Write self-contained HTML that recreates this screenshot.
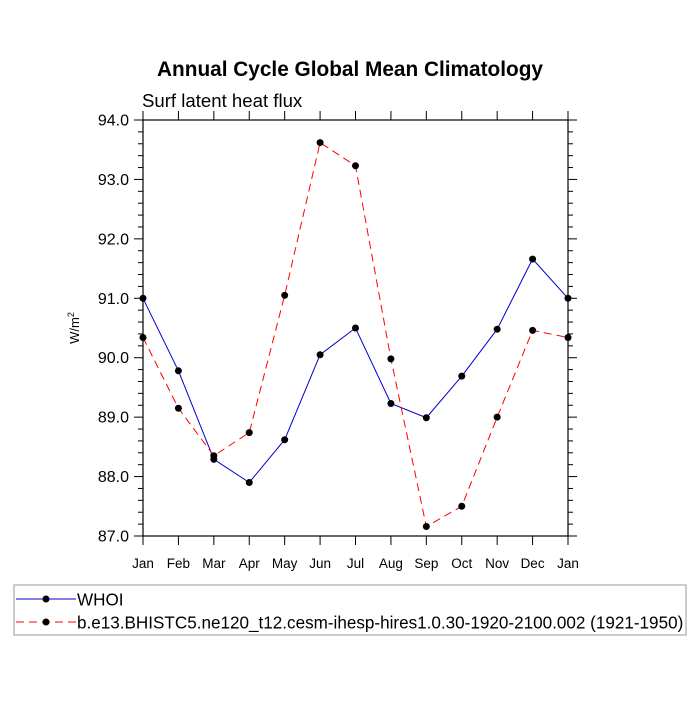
<!DOCTYPE html>
<html><head><meta charset="utf-8"><style>
body{margin:0;background:#fff}
svg{font-family:"Liberation Sans",Arial,sans-serif}
</style></head><body>
<svg width="700" height="700" xmlns="http://www.w3.org/2000/svg">
<rect width="700" height="700" fill="#fff"/>
<text x="350" y="76" text-anchor="middle" font-size="20.8" font-weight="bold">Annual Cycle Global Mean Climatology</text>
<text x="142" y="107" font-size="18.6">Surf latent heat flux</text>
<text transform="translate(79,328) rotate(-90)" text-anchor="middle" font-size="13">W/m<tspan dy="-5" font-size="9">2</tspan></text>
<g id="axes"></g>
<g id="series"></g>
<rect x="14" y="585" width="672" height="50" fill="none" stroke="#999" stroke-width="1"/>
<g>
<line x1="16" y1="599" x2="76" y2="599" stroke="#00c" stroke-width="1"/>
<circle cx="46" cy="599" r="3.5" fill="#000"/>
<text x="77" y="605.5" font-size="17.1">WHOI</text></g>
<g>
<line x1="16" y1="622" x2="76" y2="622" stroke="#f00" stroke-width="1" stroke-dasharray="8,5"/>
<circle cx="46" cy="622" r="3.5" fill="#000"/>
<text x="77" y="628.5" font-size="17.1">b.e13.BHISTC5.ne120_t12.cesm-ihesp-hires1.0.30-1920-2100.002 (1921-1950)</text></g>
</svg>
<script>
const months=["Jan","Feb","Mar","Apr","May","Jun","Jul","Aug","Sep","Oct","Nov","Dec","Jan"];
const whoi=[91.0,89.78,88.29,87.9,88.62,90.05,90.5,89.23,88.99,89.69,90.48,91.66,91.0];
const model=[90.34,89.15,88.35,88.74,91.05,93.62,93.23,89.98,87.16,87.5,89.0,90.46,90.34];
const yTicks=["87.0","88.0","89.0","90.0","91.0","92.0","93.0","94.0"];
const X0=143,X1=568,Y0=536,Y1=120,YMIN=87,YMAX=94;
const NS="http://www.w3.org/2000/svg";
function sx(i){return X0+(X1-X0)*i/(months.length-1);}
function sy(v){return Y0-(Y0-Y1)*(v-YMIN)/(YMAX-YMIN);}
function mk(t,a,p){const e=document.createElementNS(NS,t);for(const k in a)e.setAttribute(k,a[k]);p.appendChild(e);return e;}
const ax=document.getElementById('axes');
const box=mk('rect',{x:X0,y:Y1,width:X1-X0,height:Y0-Y1,fill:'none',stroke:'#000','stroke-width':1.2},ax);


for(let v=YMIN;v<=YMAX+1e-9;v+=0.2){
  const y=sy(v);const maj=Math.abs(v-Math.round(v))<1e-6;const L=maj?9:5;
  mk('line',{x1:X0-L,y1:y,x2:X0,y2:y,stroke:'#000'},ax);
  mk('line',{x1:X1,y1:y,x2:X1+L,y2:y,stroke:'#000'},ax);
}
yTicks.forEach(t=>{
  const el=mk('text',{x:X0-14,y:sy(parseFloat(t))+5.5,'text-anchor':'end','font-size':16},ax);
  el.textContent=t;
  
  
});
months.forEach((m,i)=>{
  const x=sx(i);
  mk('line',{x1:x,y1:Y0,x2:x,y2:Y0+9,stroke:'#000'},ax);
  mk('line',{x1:x,y1:Y1-9,x2:x,y2:Y1,stroke:'#000'},ax);
  const el=mk('text',{x:x,y:Y0+32,'text-anchor':'middle','font-size':13.5},ax);
  el.textContent=m;
  
  
});
const sg=document.getElementById('series');
function draw(vals,color,dash,name){
  const g=mk('g',{},sg);
  
  
  const pts=vals.map((v,i)=>sx(i)+','+sy(v)).join(' ');
  const a={points:pts,fill:'none',stroke:color,'stroke-width':1};
  if(dash)a['stroke-dasharray']=dash;
  mk('polyline',a,g);
  vals.forEach((v,i)=>{
    const c=mk('circle',{cx:sx(i),cy:sy(v),r:3.5,fill:'#000'},g);
    
    
  });
}
draw(whoi,'#00c',null,'series-whoi');
draw(model,'#f00','8,5','series-model');
</script>
</body></html>
